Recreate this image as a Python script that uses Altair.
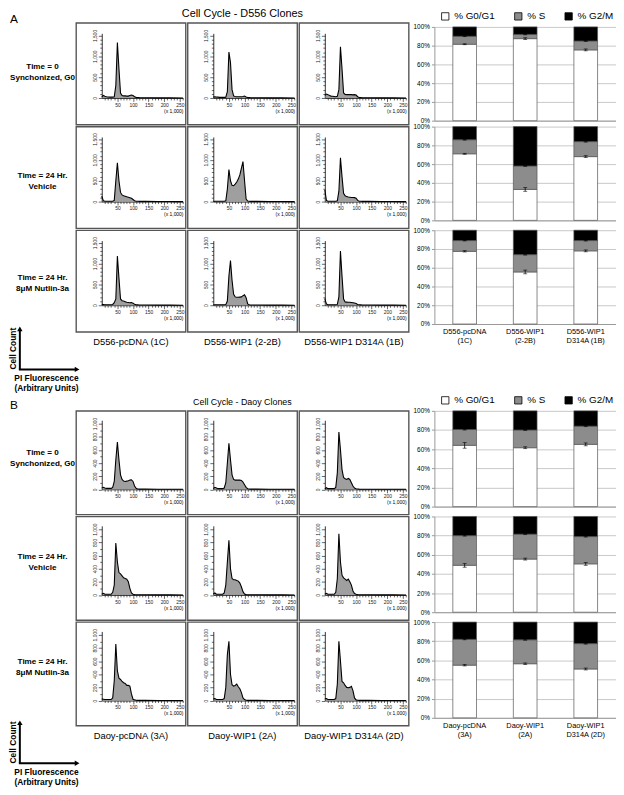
import altair as alt
import pandas as pd

FONT = "Liberation Sans"

# ---------------- histogram data (PI fluorescence x 1,000 vs cell count) ----------------
hist_x = [0, 5, 10, 15, 20, 25, 30, 35, 40, 45, 50, 55, 60, 65, 70, 75, 80, 85, 90, 95,
          100, 105, 110, 115, 120, 140, 180, 220, 260]

# Panel A: D556 clones
a_t0_pcdna = [30, 60, 40, 30, 25, 20, 20, 20, 30, 300, 1330, 700, 120, 60, 50, 50, 45, 45, 60, 70, 60, 30, 15, 10, 8, 5, 3, 2, 0]
a_t0_wip1 = [20, 30, 25, 20, 15, 15, 15, 15, 20, 150, 1100, 850, 200, 50, 35, 30, 30, 30, 30, 35, 45, 25, 10, 8, 6, 5, 3, 2, 0]
a_t0_d314a = [60, 95, 80, 60, 45, 40, 35, 30, 40, 200, 1230, 700, 120, 85, 80, 80, 80, 80, 75, 80, 70, 30, 10, 8, 6, 5, 3, 2, 0]
a_veh_pcdna = [130, 20, 10, 10, 10, 10, 10, 10, 30, 500, 930, 500, 220, 160, 140, 130, 115, 105, 95, 80, 50, 20, 10, 8, 6, 5, 3, 2, 0]
a_veh_wip1 = [10, 10, 10, 10, 10, 10, 10, 10, 20, 300, 770, 500, 390, 380, 420, 470, 540, 640, 800, 960, 500, 60, 15, 8, 6, 5, 3, 2, 0]
a_veh_d314a = [280, 30, 10, 10, 10, 10, 10, 10, 20, 250, 1050, 600, 200, 140, 120, 110, 105, 100, 100, 95, 80, 30, 10, 8, 6, 5, 3, 2, 0]
a_nut_pcdna = [20, 15, 10, 10, 10, 10, 10, 20, 60, 150, 1180, 650, 150, 110, 100, 85, 70, 65, 60, 65, 50, 25, 10, 8, 6, 5, 3, 2, 0]
a_nut_wip1 = [10, 10, 10, 10, 10, 10, 10, 10, 15, 100, 700, 1070, 600, 260, 200, 190, 190, 195, 200, 230, 250, 180, 30, 10, 6, 5, 3, 2, 0]
a_nut_d314a = [160, 30, 10, 10, 10, 10, 10, 10, 20, 200, 1300, 700, 150, 80, 75, 70, 70, 65, 60, 55, 40, 20, 10, 8, 6, 5, 3, 2, 0]

# Panel B: Daoy clones
b_t0_pcdna = [20, 30, 20, 15, 15, 15, 15, 30, 120, 450, 720, 450, 220, 150, 125, 120, 125, 130, 140, 145, 120, 50, 15, 5, 3, 3, 2, 1, 0]
b_t0_wip1 = [10, 30, 20, 10, 10, 10, 10, 20, 100, 400, 700, 450, 220, 150, 140, 140, 140, 140, 135, 110, 70, 30, 10, 5, 3, 3, 2, 1, 0]
b_t0_d314a = [10, 25, 10, 10, 10, 10, 10, 30, 250, 870, 600, 300, 180, 160, 150, 165, 150, 100, 50, 20, 10, 5, 3, 2, 2, 2, 1, 1, 0]
b_veh_pcdna = [10, 25, 10, 10, 10, 10, 10, 40, 150, 790, 500, 340, 320, 290, 260, 250, 240, 200, 100, 30, 10, 5, 3, 2, 2, 2, 1, 1, 0]
b_veh_wip1 = [15, 30, 10, 10, 10, 10, 10, 30, 150, 500, 830, 400, 250, 230, 230, 220, 210, 180, 120, 50, 15, 5, 3, 2, 2, 2, 1, 1, 0]
b_veh_d314a = [10, 25, 10, 10, 10, 10, 10, 40, 250, 930, 500, 300, 260, 240, 220, 240, 200, 150, 60, 20, 10, 5, 3, 2, 2, 2, 1, 1, 0]
b_nut_pcdna = [25, 20, 15, 15, 15, 15, 15, 40, 300, 860, 450, 340, 320, 290, 270, 260, 230, 230, 220, 100, 20, 10, 5, 3, 2, 2, 1, 1, 0]
b_nut_wip1 = [25, 30, 15, 15, 15, 15, 15, 30, 200, 700, 900, 400, 240, 220, 230, 250, 210, 180, 120, 40, 15, 5, 3, 2, 2, 2, 1, 1, 0]
b_nut_d314a = [25, 30, 15, 15, 15, 15, 15, 30, 250, 900, 600, 290, 270, 230, 200, 195, 200, 215, 150, 40, 10, 5, 3, 2, 2, 2, 1, 1, 0]

# ---------------- stacked bar data (% of cells per phase) ----------------
phases = ["% G0/G1", "% S", "% G2/M"]
phase_colors = ["white", "#8c8c8c", "black"]

a_clones = ["D556-pcDNA\n(1C)", "D556-WIP1\n(2-2B)", "D556-WIP1\nD314A (1B)"]
b_clones = ["Daoy-pcDNA\n(3A)", "Daoy-WIP1\n(2A)", "Daoy-WIP1\nD314A (2D)"]

a_g1 = [[81.5, 87.5, 75.5], [71, 33, 68], [77.5, 55.5, 78]]
a_s = [[8.5, 4.5, 9.5], [15, 25, 16], [11.5, 18.5, 11]]
a_g2 = [[10, 8, 15], [14, 42, 16], [11, 26, 11]]
a_g1_err = [[0.5, 1.0, 1.0], [0.5, 2.0, 1.0], [0.7, 2.0, 1.0]]
a_s_err = [[0.4, 0.5, 0.5], [0.4, 0.5, 0.5], [0.4, 0.5, 0.5]]

b_g1 = [[64, 61.5, 65], [49, 55.5, 50.5], [55, 56.5, 51]]
b_s = [[16.5, 18.5, 19], [31, 26, 28.5], [27, 25, 26.5]]
b_g2 = [[19.5, 20, 16], [20, 18.5, 21], [18, 18.5, 22.5]]
b_g1_err = [[3.0, 1.0, 1.5], [2.0, 1.0, 1.5], [0.8, 0.8, 1.0]]
b_s_err = [[0.5, 0.5, 0.5], [0.5, 0.5, 0.5], [0.5, 0.5, 0.5]]

# ---------------- text ----------------
row_labels = [["Time = 0", "Synchonized, G0"], ["Time = 24 Hr.", "Vehicle"],
              ["Time = 24 Hr.", "8\u03bcM Nutlin-3a"]]
a_col_labels = ["D556-pcDNA (1C)", "D556-WIP1 (2-2B)", "D556-WIP1 D314A (1B)"]
b_col_labels = ["Daoy-pcDNA (3A)", "Daoy-WIP1 (2A)", "Daoy-WIP1 D314A (2D)"]
a_title = "Cell Cycle - D556 Clones"
b_title = "Cell Cycle - Daoy Clones"

# ---------------- layout sizes ----------------
HW = 111              # histogram box width
BW = 184              # bar plot width
LW = 65               # label column
GAP_W = 22            # spacer column between histograms and bars
PANEL = {
    # box height, bar height, y-domain, y pixel range, top tick, labelled step
    "A": dict(hh=103, bh=95, ydom=[0, 1550], yrng=[76, 10.5], ytop=1500, ymajor=500),
    "B": dict(hh=105, bh=97, ydom=[0, 1050], yrng=[79.5, 9.5], ytop=1000, ymajor=200),
}

one = pd.DataFrame({"d": [0]})


def spacer(w=1, h=1):
    return alt.Chart(one).mark_point(opacity=0, size=1).encode(
        x=alt.value(0), y=alt.value(0)).properties(
        width=w, height=h, view=alt.ViewBackground(strokeWidth=0))


def hist_chart(counts, panel, title=None):
    p = PANEL[panel]
    hh = p["hh"]
    df = pd.DataFrame({"x": hist_x, "n": counts})
    xaxis = alt.Axis(
        values=list(range(10, 261, 10)),
        labelExpr="datum.value % 50 === 0 ? format(datum.value, 'd') : ''",
        tickSize={"condition": {"test": "datum.value % 50 === 0", "value": 3.5}, "value": 2},
        offset=-(hh - p["yrng"][0]), title="(x 1,000)", titleAnchor="end", titleFontSize=5,
        titleFontWeight="normal", titlePadding=1, labelFontSize=5, labelPadding=1,
        domainColor="black", domainWidth=0.8, tickColor="black", tickWidth=0.6,
        labelColor="#222", grid=False, labelFlush=False, labelOverlap=False)
    yaxis = alt.Axis(
        values=list(range(0, p["ytop"] + 1, 100)),
        labelExpr="datum.value %% %d === 0 ? format(datum.value, ',') : ''" % p["ymajor"],
        tickSize={"condition": {"test": "datum.value %% %d === 0" % p["ymajor"], "value": 3.5},
                  "value": 2},
        offset=-26, title=None, labelFontSize=5, labelPadding=1,
        labelAngle=270, labelAlign="center", labelBaseline="bottom",
        domainColor="black", domainWidth=0.8, tickColor="black", tickWidth=0.6,
        labelColor="#222", grid=False, labelFlush=False, labelOverlap=False)
    ch = alt.Chart(df).mark_area(
        color="#767676", line={"color": "black", "strokeWidth": 1.1}
    ).encode(
        x=alt.X("x:Q", scale=alt.Scale(domain=[0, 260], range=[26, 108.3], nice=False), axis=xaxis),
        y=alt.Y("n:Q", scale=alt.Scale(domain=p["ydom"], range=p["yrng"], nice=False), axis=yaxis),
    )
    props = dict(width=HW, height=hh,
                 view=alt.ViewBackground(stroke="#555", strokeWidth=1.4, fill="white"))
    if title is not None:
        props["title"] = title
    return ch.properties(**props)


def bar_chart(g1, s, g2, e1, e2, clones, last, legend, bh):
    rows, err = [], []
    for c, a, b, d, ea, eb in zip(clones, g1, s, g2, e1, e2):
        rows += [dict(clone=c, phase=phases[0], lo=0, hi=a / 100),
                 dict(clone=c, phase=phases[1], lo=a / 100, hi=(a + b) / 100),
                 dict(clone=c, phase=phases[2], lo=(a + b) / 100, hi=(a + b + d) / 100)]
        err += [dict(clone=c, elo=(a - ea) / 100, ehi=(a + ea) / 100),
                dict(clone=c, elo=(a + b - eb) / 100, ehi=(a + b + eb) / 100)]
    df = pd.DataFrame(rows)
    de = pd.DataFrame(err)
    if last:
        xaxis = alt.Axis(labelExpr="split(datum.label, '\\n')", labelAngle=0, labelFontSize=7.5,
                         labelLineHeight=9, ticks=False, domainColor="#999", title=None,
                         labelPadding=4, labelColor="black", labelBaseline="top")
    else:
        xaxis = alt.Axis(labels=False, ticks=False, domainColor="#999", title=None)
    yaxis = alt.Axis(values=[0, 0.2, 0.4, 0.6, 0.8, 1], format=".0%", labelFontSize=6.5,
                     gridColor="#c8c8c8", domainColor="#999", tickSize=3, tickColor="#999",
                     title=None, labelPadding=2, labelColor="black")
    ys = alt.Scale(domain=[0, 1], nice=False)
    xs = alt.Scale(paddingInner=0, paddingOuter=0)
    if legend:
        leg = alt.Legend(title=None, orient="none", legendX=6, legendY=-16, direction="horizontal",
                         symbolType="square", symbolSize=55, symbolStrokeColor="black",
                         symbolStrokeWidth=0.8, labelFontSize=10, columnPadding=17,
                         labelOffset=4, labelColor="black")
    else:
        leg = None
    bars = alt.Chart(df).mark_bar(size=24, stroke="#555", strokeWidth=0.7).encode(
        x=alt.X("clone:N", sort=clones, scale=xs, axis=xaxis),
        y=alt.Y("lo:Q", scale=ys, axis=yaxis),
        y2="hi:Q",
        color=alt.Color("phase:N", scale=alt.Scale(domain=phases, range=phase_colors), legend=leg),
    )
    rule = alt.Chart(de).mark_rule(color="black", strokeWidth=0.8).encode(
        x=alt.X("clone:N", sort=clones, scale=xs, axis=xaxis),
        y=alt.Y("elo:Q", scale=ys, axis=yaxis), y2="ehi:Q")
    tlo = alt.Chart(de).mark_tick(color="black", size=4, thickness=0.8).encode(
        x=alt.X("clone:N", sort=clones, scale=xs, axis=xaxis),
        y=alt.Y("elo:Q", scale=ys, axis=yaxis))
    thi = alt.Chart(de).mark_tick(color="black", size=4, thickness=0.8).encode(
        x=alt.X("clone:N", sort=clones, scale=xs, axis=xaxis),
        y=alt.Y("ehi:Q", scale=ys, axis=yaxis))
    return alt.layer(bars, rule, tlo, thi).properties(
        width=BW, height=bh, view=alt.ViewBackground(strokeWidth=0))


def label_cell(lines, ymid, hh, letter=None, letter_y=0):
    layers = []
    for i, line in enumerate(lines):
        layers.append(alt.Chart(one).mark_text(
            font=FONT, fontSize=8.2, fontWeight="bold", align="center", baseline="middle",
            color="black").encode(
            x=alt.value(33), y=alt.value(ymid - 5.5 + 11 * i), text=alt.value(line)))
    if letter is not None:
        layers.append(alt.Chart(one).mark_text(font=FONT, fontSize=12, align="left",
                                               baseline="middle", color="black").encode(
            x=alt.value(0), y=alt.value(letter_y), text=alt.value(letter)))
    return alt.layer(*layers).properties(width=LW, height=hh, view=alt.ViewBackground(strokeWidth=0))


def footer(h, col_labels):
    vrule = alt.Chart(one).mark_rule(color="black", strokeWidth=2).encode(
        x=alt.value(10), y=alt.value(36), y2=alt.value(-4))
    hrule = alt.Chart(one).mark_rule(color="black", strokeWidth=2).encode(
        x=alt.value(9), x2=alt.value(67), y=alt.value(36))
    up = alt.Chart(one).mark_point(shape="triangle-up", filled=True, color="black", size=30,
                                   opacity=1).encode(x=alt.value(10), y=alt.value(-5))
    right = alt.Chart(one).mark_point(shape="triangle-right", filled=True, color="black", size=30,
                                      opacity=1).encode(x=alt.value(68), y=alt.value(36))
    cc = alt.Chart(one).mark_text(font=FONT, fontSize=8.5, fontWeight="bold", angle=270,
                                  align="center", baseline="middle").encode(
        x=alt.value(3), y=alt.value(15), text=alt.value("Cell Count"))
    pi = alt.Chart(one).mark_text(font=FONT, fontSize=8.5, fontWeight="bold", align="center",
                                  baseline="middle").encode(
        x=alt.value(37), y=alt.value(45), text=alt.value("PI Fluorescence"))
    au = alt.Chart(one).mark_text(font=FONT, fontSize=8.5, fontWeight="bold", align="center",
                                  baseline="middle").encode(
        x=alt.value(37), y=alt.value(55), text=alt.value("(Arbitrary Units)"))
    layers = [vrule, hrule, up, right, cc, pi, au]
    for i, lab in enumerate(col_labels):
        layers.append(alt.Chart(one).mark_text(font=FONT, fontSize=9.5, align="center",
                                               baseline="middle", color="black").encode(
            x=alt.value(LW + 2 + HW / 2 + i * (HW + 2)), y=alt.value(8), text=alt.value(lab)))
    return alt.layer(*layers).properties(
        width=LW, height=h, view=alt.ViewBackground(strokeWidth=0))


def block_cells(panel, hists, g1, s, g2, e1, e2, clones, col_labels, title, title_size, letter,
                letter_y, label_mids, foot_h):
    p = PANEL[panel]
    cells = []
    for r in range(3):
        cells.append(label_cell(row_labels[r], label_mids[r], p["hh"],
                                letter if r == 0 else None, letter_y))
        for c in range(3):
            t = None
            if r == 0 and c == 1:
                t = alt.TitleParams(title, fontSize=title_size, fontWeight="normal", offset=4,
                                    anchor="middle", font=FONT, color="black")
            cells.append(hist_chart(hists[r][c], panel, title=t))
        cells.append(spacer(GAP_W, 1))
        cells.append(bar_chart(g1[r], s[r], g2[r], e1[r], e2[r], clones, r == 2, r == 0, p["bh"]))
    cells.append(footer(foot_h, col_labels))
    for _ in range(5):
        cells.append(spacer())
    return cells


a_hists = [[a_t0_pcdna, a_t0_wip1, a_t0_d314a],
           [a_veh_pcdna, a_veh_wip1, a_veh_d314a],
           [a_nut_pcdna, a_nut_wip1, a_nut_d314a]]
b_hists = [[b_t0_pcdna, b_t0_wip1, b_t0_d314a],
           [b_veh_pcdna, b_veh_wip1, b_veh_d314a],
           [b_nut_pcdna, b_nut_wip1, b_nut_d314a]]

cells = block_cells("A", a_hists, a_g1, a_s, a_g2, a_g1_err, a_s_err, a_clones, a_col_labels,
                    a_title, 11, "A", -4, [50, 56, 54], 76)
cells += block_cells("B", b_hists, b_g1, b_s, b_g2, b_g1_err, b_s_err, b_clones, b_col_labels,
                     b_title, 9, "B", -6, [48, 47, 46], 58)

chart = alt.concat(*cells, columns=6, spacing=2, bounds="flush", align="each", center=True
                   ).resolve_scale(color="independent").properties(
    padding={"left": 0, "top": -6, "right": 0, "bottom": 0}, background="white"
).configure(font=FONT).configure_view(strokeWidth=0)

chart.save("out.html", embed_options={"renderer": "svg", "actions": False})
